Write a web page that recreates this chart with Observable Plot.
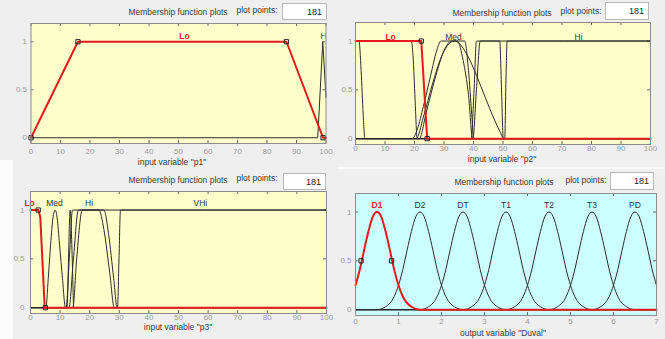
<!DOCTYPE html>
<html><head><meta charset="utf-8">
<script src="https://cdn.jsdelivr.net/npm/d3@7"></script>
<script src="https://cdn.jsdelivr.net/npm/@observablehq/plot@0.6"></script>
<style>
body{margin:0;background:#f0f0f0;}
#wrap{position:relative;width:665px;height:339px;overflow:hidden;background:#efefef;font-family:"Liberation Sans",Arial,sans-serif;}
#wrap svg{position:absolute;left:0;top:0;background:transparent !important;overflow:visible;}
.t{position:absolute;font-size:8.5px;color:#3a3a3a;white-space:nowrap;transform:translate(-50%,-50%);line-height:1;}
.box{position:absolute;background:#fff;border:1px solid #b8b8b8;font-size:9px;color:#222;text-align:right;box-sizing:border-box;padding-right:4px;display:flex;align-items:center;justify-content:flex-end;}
.sep{position:absolute;background:#fbfbfb;}
</style></head><body><div id="wrap"></div>
<script>
// ---------- shared ticks ----------
const xTicks100 = [0,10,20,30,40,50,60,70,80,90,100];
const xTicksDuval = [0,1,2,3,4,5,6,7];
const yTicks = [0,0.5,1];

// ---------- panel 1: input variable "p1" ----------
const p1Names = ["Lo","Hi"];
const p1LabelX = [52, 99.5];
const p1Lo = [[0,0],[15.9,1],[86.6,1],[99,0],[100,0]];
const p1Hi = [[0,0],[97.2,0],[98.9,1],[100,0.42]];
const p1Knots = [[0,0],[15.9,1],[86.6,1],[99,0]];

// ---------- panel 2: input variable "p2" ----------
const p2Names = ["Lo","Med","Hi"];
const p2LabelX = [11.9, 33.2, 75.6];
const p2Lo = [[0,1],[22.3,1],[24.3,0],[100,0]];
const p2Knots = [[22.3,1],[24.3,0]];
const p2A = [[0,1],[1.2,1],[1.9,0.7],[2.6,0.25],[3.2,0],[100,0]];
const p2B = [[0,1],[18.9,1],[19.5,0.85],[20.2,0.4],[20.9,0],[100,0]];
const p2M1 = [[0,0],[19.2,0],[21,0.1],[23,0.33],[25.5,0.65],[27.5,0.9],[29,1],[37,1],[38.3,0.7],[39.4,0.25],[40.1,0],[100,0]];
const p2M2 = [[0,0],[20.6,0],[23,0.22],[26,0.55],[29,0.83],[32,0.98],[33.5,1],[35,0.98],[38,0.85],[41,0.65],[44,0.42],[47,0.2],[49,0.07],[50.3,0],[100,0]];
const p2M3 = [[0,0],[21.6,0],[24,0.27],[27,0.62],[30,0.9],[32.5,1],[34.5,1],[36.5,0.8],[38.3,0.45],[39.7,0],[100,0]];
const p2H1 = [[0,0],[39.2,0],[40.2,0.5],[41,1],[100,1]];
const p2H2 = [[0,0],[39.8,0],[41,0.5],[42.3,1],[48.9,1],[49.5,0.5],[50.1,0],[100,0]];
const p2H3 = [[0,0],[50.6,0],[51,0.6],[51.4,1],[100,1]];

// ---------- panel 3: input variable "p3" ----------
const p3Names = ["Lo","Med","Hi","VHi"];
const p3LabelX = [-0.3, 8.1, 19.8, 57.4];
const p3Lo = [[0,1],[2.6,1],[3.3,0.93],[4,0.5],[4.8,0],[100,0]];
const p3Knots = [[2.6,1],[5,0]];
const p3Med = [[0,0],[5.2,0],[6,0.3],[6.8,0.65],[7.6,0.92],[8.3,1],[9,0.92],[9.8,0.65],[10.8,0.3],[11.8,0],[100,0]];
const p3V1 = [[0,0],[12.3,0],[13.4,1],[14.2,0.4],[14.6,0],[100,0]];
const p3H1 = [[0,0],[12,0],[13.2,0.55],[14.2,1],[23.1,1],[24.8,0.8],[26.8,0.35],[28.3,0],[100,0]];
const p3H2 = [[0,0],[13,0],[14.5,0.5],[16.2,1],[24.8,1],[26.4,0.75],[28.1,0.3],[29.3,0],[100,0]];
const p3H3 = [[0,0],[14.3,0],[15.6,0.5],[17.5,1],[100,1]];
const p3VHi = [[0,0],[29.4,0],[29.9,0.5],[30.4,1],[100,1]];

// ---------- panel 4: output variable "Duval" ----------
const duvalNames = ["D1","D2","DT","T1","T2","T3","PD"];
const duvalCenters = [0.5,1.5,2.5,3.5,4.5,5.5,6.5];
const bellDx = [-1,-0.8,-0.6,-0.5,-0.4,-0.3,-0.2,-0.1,0,0.1,0.2,0.3,0.4,0.5,0.6,0.8,1];
const bellY  = [0,0.03,0.135,0.25,0.41,0.61,0.8,0.95,1,0.95,0.8,0.61,0.41,0.25,0.135,0.03,0];
const duvalKnots = [[0.13,0.5],[0.84,0.5]];

const bells = duvalCenters.map(c => {
  const pts = bellDx.map((d,i) => [c + d, bellY[i]]).filter(p => p[0] >= 0 && p[0] <= 7);
  if (pts[0][0] > 0) pts.unshift([0,0]);
  if (pts[pts.length-1][0] < 7) pts.push([7,0]);
  return pts;
});

// ---------- drawing ----------
const W = 665, H = 339;
const yDomain = [-0.06, 1.19];
const RED = "#e41a1c";
const wrap = document.getElementById("wrap");

function panel(cfg) {
  const [x0,y0,x1,y1] = cfg.box;
  const pw = x1 - x0, ph = y1 - y0;
  const X = d => d[0], Y = d => d[1];
  const idx = cfg.names.map((_, i) => i);
  const marks = [
    Plot.frame({fill: cfg.bg}),
    Plot.tickX(cfg.xTicks, {x: d => d, insetTop: ph - 3, stroke: "#666"}),
    Plot.tickX(cfg.xTicks, {x: d => d, insetBottom: ph - 3, stroke: "#666"}),
    Plot.tickY(yTicks, {y: d => d, insetLeft: pw - 3, stroke: "#666"}),
    Plot.tickY(yTicks, {y: d => d, insetRight: pw - 3, stroke: "#666"}),
    Plot.axisX(cfg.xTicks, {anchor: "bottom", tickSize: 0, tickPadding: cfg.xPad, tickFormat: d => String(d), fontSize: 8, label: null}),
    Plot.axisY(yTicks, {anchor: "left", tickSize: 0, tickPadding: cfg.yPad, tickFormat: d => String(d), fontSize: 8, label: null}),
    ...cfg.black.map(c => Plot.line(c, {x: X, y: Y, stroke: "#2b2b2b", strokeWidth: 1, curve: cfg.smooth ? "monotone-x" : "linear"})),
    Plot.line(cfg.red, {x: X, y: Y, stroke: RED, strokeWidth: 2, curve: cfg.redSmooth ? "monotone-x" : "linear"}),
    Plot.dot(cfg.knots, {x: X, y: Y, symbol: "square", r: 2.4, stroke: "#222", fill: "none", strokeWidth: 1}),
    Plot.text(idx.filter(i => i === 0), {x: i => cfg.labelX[i], text: i => cfg.names[i], frameAnchor: "top", dy: cfg.labelDy, fill: RED, fontWeight: "bold", fontSize: 8.5, clip: cfg.clip}),
    Plot.text(idx.filter(i => i > 0), {x: i => cfg.labelX[i], text: i => cfg.names[i], frameAnchor: "top", dy: cfg.labelDy, fill: "#333", fontSize: 8.5, clip: cfg.clip}),
    Plot.frame({stroke: "#8c8c8c"})
  ];
  const svg = Plot.plot({
    width: W, height: H,
    marginLeft: x0, marginRight: W - x1, marginTop: y0, marginBottom: H - y1,
    x: {domain: cfg.xDomain},
    y: {domain: yDomain},
    style: {background: "transparent", color: "#9a9a9a", fontFamily: "'Liberation Sans', Arial, sans-serif"},
    marks
  });
  wrap.append(svg);
}

function txt(s, cx, cy, extra) {
  const d = document.createElement("div");
  d.className = "t"; d.textContent = s;
  d.style.left = cx + "px"; d.style.top = cy + "px";
  if (extra) Object.assign(d.style, extra);
  wrap.append(d);
}
function box(l, t, w, h, s) {
  const d = document.createElement("div");
  d.className = "box"; d.textContent = s;
  Object.assign(d.style, {left: l + "px", top: t + "px", width: w + "px", height: h + "px"});
  wrap.append(d);
}
function sep(l, t, w, h) {
  const d = document.createElement("div");
  d.className = "sep";
  Object.assign(d.style, {left: l + "px", top: t + "px", width: w + "px", height: h + "px"});
  wrap.append(d);
}

sep(0, 160, 13, 179);
sep(337, 167, 328, 2);

panel({box: [30.5, 23, 325.5, 143], xDomain: [0,100], xTicks: xTicks100, bg: "#ffffcc", xPad: 5, yPad: 4, labelDy: 9, clip: true,
  names: p1Names, labelX: p1LabelX, black: [p1Hi], red: p1Lo, knots: p1Knots, smooth: false, redSmooth: false});
panel({box: [355, 22, 650, 144], xDomain: [0,100], xTicks: xTicks100, bg: "#ffffcc", xPad: 1, yPad: 3, labelDy: 11, clip: false,
  names: p2Names, labelX: p2LabelX, black: [p2A, p2B, p2M1, p2M2, p2M3, p2H1, p2H2, p2H3], red: p2Lo, knots: p2Knots, smooth: true, redSmooth: false});
panel({box: [30, 191, 326, 313], xDomain: [0,100], xTicks: xTicks100, bg: "#ffffcc", xPad: 1, yPad: 6, labelDy: 8, clip: false,
  names: p3Names, labelX: p3LabelX, black: [p3Med, p3V1, p3H1, p3H2, p3H3, p3VHi], red: p3Lo, knots: p3Knots, smooth: true, redSmooth: false});
panel({box: [355, 193, 656, 315], xDomain: [0,7], xTicks: xTicksDuval, bg: "#ccffff", xPad: 3, yPad: 4, labelDy: 8, clip: false,
  names: duvalNames, labelX: duvalCenters, black: bells.slice(1), red: bells[0], knots: duvalKnots, smooth: true, redSmooth: true});

// headers
txt("Membership function plots", 178, 12);
txt("plot points:", 257, 10);
box(282, 3, 45, 17, "181");
txt("input variable \"p1\"", 172, 162);

txt("Membership function plots", 502, 13);
txt("plot points:", 581, 11);
box(605, 2, 44, 18, "181");
txt("input variable \"p2\"", 502, 159);

txt("Membership function plots", 178, 180);
txt("plot points:", 257, 178);
box(283, 173, 43, 17, "181");
txt("input variable \"p3\"", 178, 327);

txt("Membership function plots", 504, 182);
txt("plot points:", 586, 180);
box(610, 172, 44, 18, "181");
txt("output variable \"Duval\"", 503, 333);
</script></body></html>
